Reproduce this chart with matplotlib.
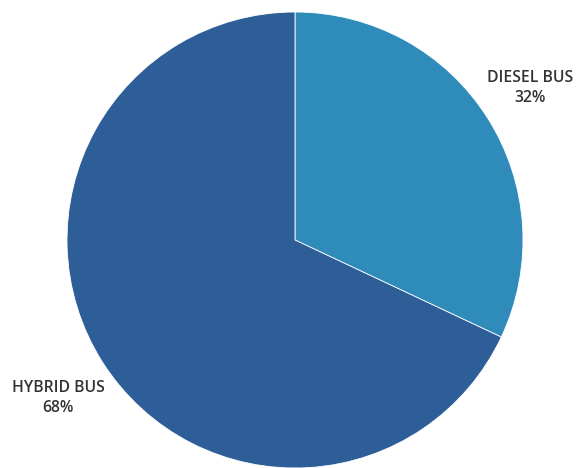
import matplotlib.pyplot as plt

# Data
labels = ['DIESEL BUS', 'HYBRID BUS']
shares = [32, 68]
colors = ['#2E8BBA', '#2E5E98']

fig = plt.figure(figsize=(5.86, 4.68), dpi=100)
ax = fig.add_axes([0, 0, 1, 1])

ax.pie(shares, colors=colors, startangle=90, counterclock=False,
       center=(295, 228), radius=228, frame=True,
       wedgeprops={'edgecolor': 'white', 'linewidth': 0.6})
ax.set_xlim(0, 586)
ax.set_ylim(0, 468)
ax.set_aspect('equal')
ax.axis('off')

# Labels placed beside the slices
label_pos = [(530, 380), (58, 70)]
for lab, val, (x, y) in zip(labels, shares, label_pos):
    ax.text(x, y, f'{lab}\n{val}%', ha='center', va='center',
            fontsize=11.3, fontfamily='Open Sans', fontweight='semibold',
            color='#333333', linespacing=1.4)

fig.savefig('out.png', dpi=100)
